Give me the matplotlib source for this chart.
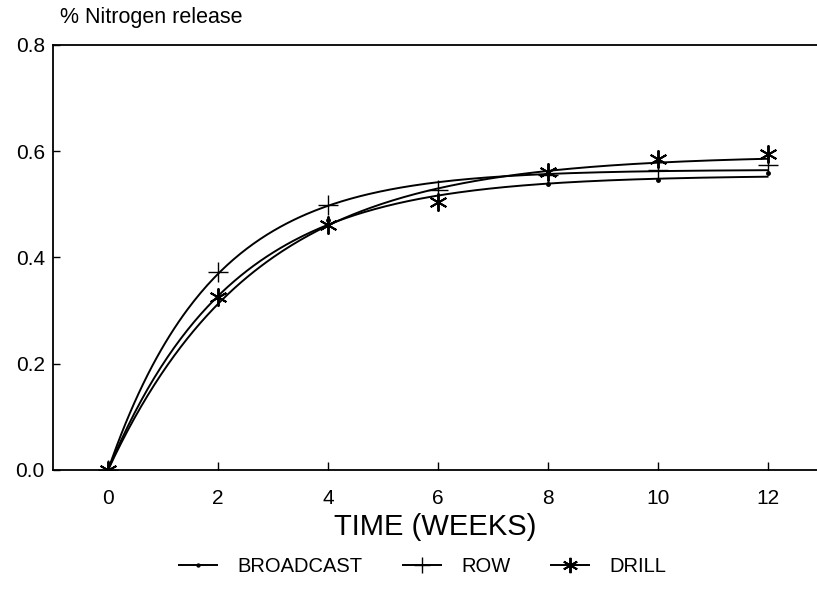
import numpy as np
import matplotlib
matplotlib.use("Agg")
import matplotlib.pyplot as plt

plt.rcParams['font.family'] = ['Liberation Sans', 'DejaVu Sans']

weeks = [0, 2, 4, 6, 8, 10, 12]
broadcast = [0.0, 0.326, 0.470, 0.505, 0.539, 0.546, 0.559]
row = [0.0, 0.373, 0.499, 0.527, 0.555, 0.565, 0.574]
drill = [0.0, 0.326, 0.461, 0.505, 0.561, 0.586, 0.595]
series_names = ["BROADCAST", "ROW", "DRILL"]
x_ticks = [0, 2, 4, 6, 8, 10, 12]
y_ticks = [0.0, 0.2, 0.4, 0.6, 0.8]


def fit_exp(t, y):
    # least-squares fit of y = a * (1 - exp(-k t)) by scanning k
    t = np.asarray(t, float)
    y = np.asarray(y, float)
    best = None
    for k in np.linspace(0.05, 2.0, 2000):
        g = 1 - np.exp(-k * t)
        a = (g @ y) / (g @ g)
        err = np.sum((a * g - y) ** 2)
        if best is None or err < best[0]:
            best = (err, a, k)
    return best[1], best[2]


fig = plt.figure(figsize=(8.17, 6.0), dpi=100)
ax = fig.add_axes([0.065, 0.2167, 0.935, 0.7083])

tt = np.linspace(0, 12, 300)
markers = ['.', '+', (6, 2, 0)]
msizes = [5, 14, 13]
mews = [1.0, 1.0, 1.4]
handles = []
for name, ys, m, ms, mw in zip(series_names, [broadcast, row, drill], markers, msizes, mews):
    a, k = fit_exp(weeks, ys)
    ax.plot(tt, a * (1 - np.exp(-k * tt)), color='black', lw=1.4)
    ax.plot(weeks, ys, linestyle='none', marker=m, color='black', ms=ms,
            mew=mw)
    h, = ax.plot([], [], color='black', lw=1.4, marker=m, ms=ms * 0.85, mew=mw)
    handles.append(h)

ax.set_xlim(-1, 12.9)
ax.set_ylim(0, 0.8)
ax.set_xticks(x_ticks)
ax.set_yticks(y_ticks)
ax.set_yticklabels([f"{v:.1f}" for v in y_ticks])
ax.spines['right'].set_visible(False)
for s in ['left', 'top', 'bottom']:
    ax.spines[s].set_linewidth(1.3)
ax.tick_params(axis='x', direction='in', length=6, width=1, labelsize=15, pad=14)
ax.tick_params(axis='y', direction='in', length=5, width=1, labelsize=15, pad=6)

ax.set_xlabel("TIME (WEEKS)", fontsize=21, labelpad=3)
fig.text(60 / 817, 1 - 18 / 600, "% Nitrogen release", fontsize=15.5,
         ha='left', va='center')

fig.legend(handles, series_names, loc='center', bbox_to_anchor=(0.517, 1 - 567 / 600),
           ncol=3, frameon=False, fontsize=14.5, handlelength=1.9,
           columnspacing=2.0, handletextpad=1.0)

fig.savefig("out.png", dpi=100)
